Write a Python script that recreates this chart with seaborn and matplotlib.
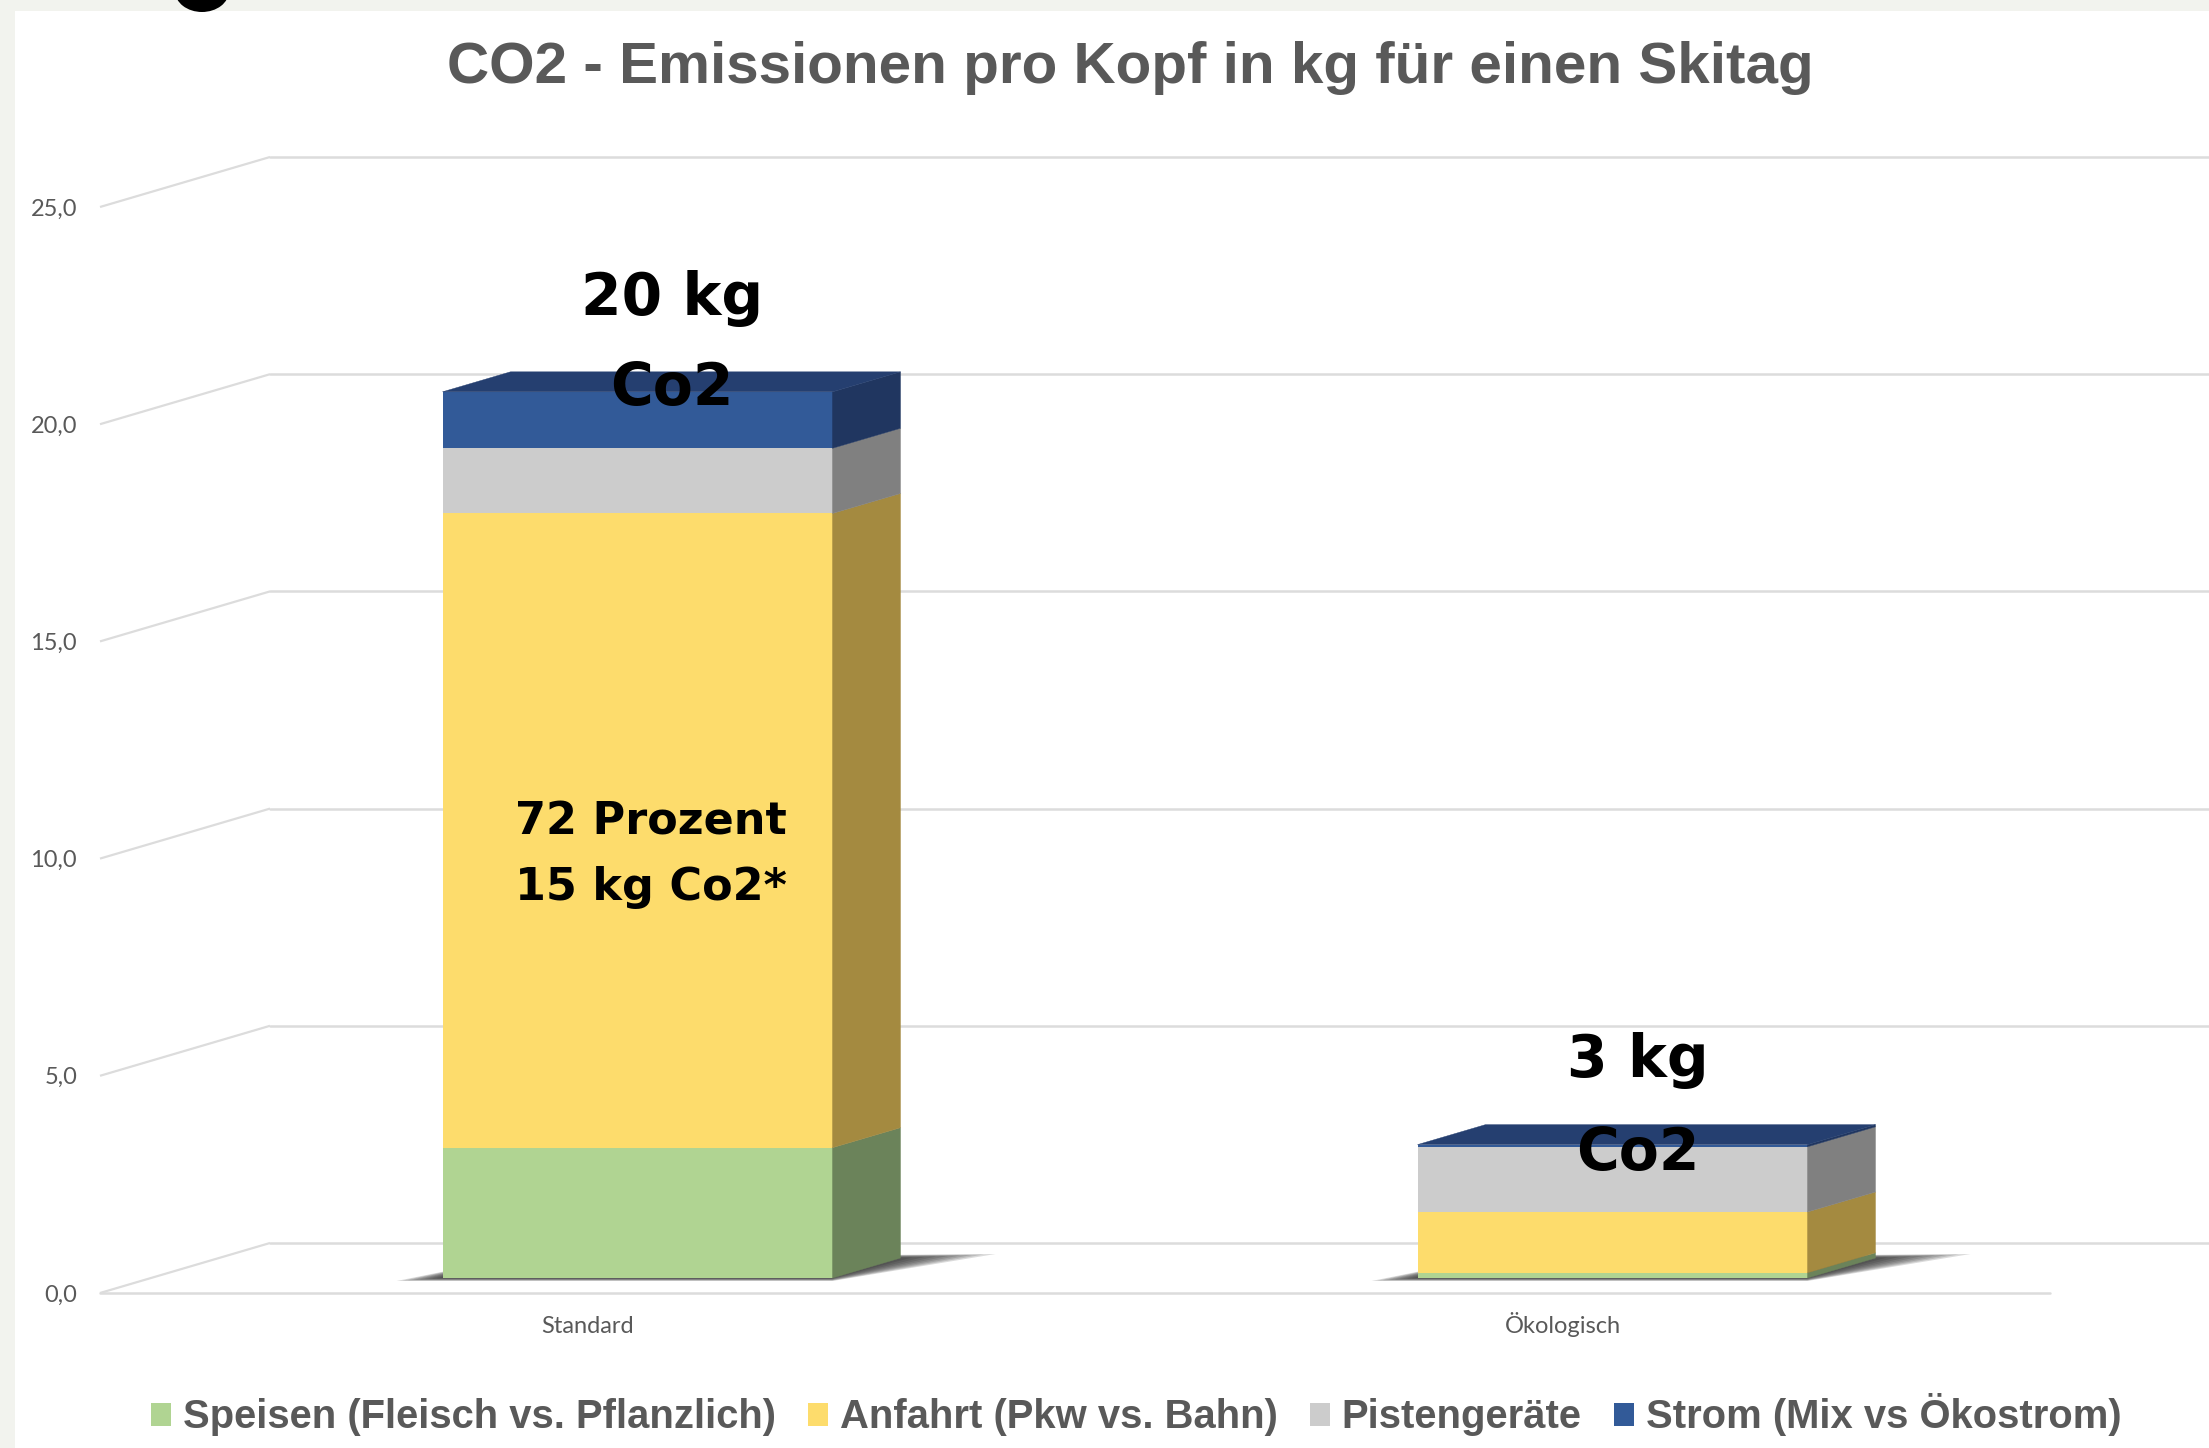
import numpy as np
import pandas as pd
import matplotlib
matplotlib.use("Agg")
import matplotlib.pyplot as plt
import seaborn as sns
from matplotlib.patches import Polygon, Rectangle, Ellipse, Patch
from matplotlib import transforms

# ---------------- data ----------------
categories = ["Standard", "Ökologisch"]
series = ["Speisen (Fleisch vs. Pflanzlich)", "Anfahrt (Pkw vs. Bahn)",
          "Pistengeräte", "Strom (Mix vs Ökostrom)"]
speisen = [3.0, 0.12]
anfahrt = [14.6, 1.4]
pistengeraete = [1.5, 1.5]
strom = [1.3, 0.05]
yticks = [0, 5, 10, 15, 20, 25]
ytick_labels = ["0,0", "5,0", "10,0", "15,0", "20,0", "25,0"]
title = "CO2 - Emissionen pro Kopf in kg für einen Skitag"
total_line1 = ["20 kg", "3 kg"]
total_line2 = ["Co2", "Co2"]
share_line1 = "72 Prozent"
share_line2 = "15 kg Co2*"

# ---------------- style ----------------
front_colors = ["#b0d492", "#fddc6c", "#cccccc", "#325a98"]
side_colors = ["#6b835a", "#a48a40", "#808080", "#203660"]
top_color = "#253f70"
grid_color = "#dcdcdc"
text_grey = "#595959"

sns.set_theme(style="white")
plt.rcParams["font.family"] = ["Lato", "DejaVu Sans"]

W, H, DPI = 2209, 1448, 100
fig = plt.figure(figsize=(W / DPI, H / DPI), dpi=DPI, facecolor="white")
ax = fig.add_axes([150 / W, (H - 1278) / H, 1950 / W, 1086 / H])
ax.set_facecolor("none")

values = np.array([speisen, anfahrt, pistengeraete, strom])
tops = np.cumsum(values, axis=0)
bottoms = tops - values

rows = []
for j, s in enumerate(series):
    for i, c in enumerate(categories):
        rows.append({"Kategorie": c, "Serie": s, "Wert": values[j, i],
                     "Oben": tops[j, i], "Unten": bottoms[j, i]})
df = pd.DataFrame(rows)

# stacked bars: draw cumulative heights from the top series down
for j in reversed(range(len(series))):
    sub = df[df["Serie"] == series[j]]
    sns.barplot(data=sub, x="Kategorie", y="Oben", order=categories,
                color=front_colors[j], saturation=1, width=0.4,
                errorbar=None, linewidth=0, ax=ax, zorder=3)

ax.set_xlim(-0.5, 1.5)
ax.set_ylim(0, 25)
for sp in ax.spines.values():
    sp.set_visible(False)
ax.grid(False)
ax.set_xlabel("")
ax.set_ylabel("")


def px2data(dx, dy):
    p0 = ax.transData.transform((0, 0))
    return ax.transData.inverted().transform(p0 + np.array([dx, dy]))


front_dx, front_dy = px2data(-50, -15)
back_dx, back_dy = px2data(120, 35)
bar_dx, bar_dy = px2data(68, 20)
x0, x1 = ax.get_xlim()

# walls / grid
for t in yticks:
    ax.plot([x0 + front_dx, x0 + back_dx], [t + front_dy, t + back_dy],
            color=grid_color, lw=1.6, zorder=1, clip_on=False,
            solid_capstyle="butt")
    ax.plot([x0 + back_dx, x1 + 0.3], [t + back_dy, t + back_dy],
            color=grid_color, lw=1.8, zorder=1, clip_on=False)
ax.plot([x0 + front_dx, x1 + front_dx], [front_dy, front_dy],
        color=grid_color, lw=1.8, zorder=1, clip_on=False)

# 3D faces and shadows
bar_patches = ax.containers[0].patches
for i, p in enumerate(bar_patches):
    xl = p.get_x()
    xr = xl + p.get_width()
    # soft shadow on the floor
    n = 8
    for k in range(n):
        f = 1 - k / n
        exl, _ = px2data(-46 * f, 0)
        exr, _ = px2data(95 * f, 0)
        _, eb = px2data(0, -3 * f)
        _, et = px2data(0, 4 * f)
        shadow = Polygon([(xl + exl, eb), (xr, eb),
                          (xr + bar_dx + exr, bar_dy + et),
                          (xl + bar_dx, bar_dy)],
                         closed=True, facecolor="#202020", alpha=0.16,
                         edgecolor="none", zorder=2, clip_on=False)
        ax.add_patch(shadow)
    # right side faces
    for j in range(len(series)):
        y0, y1 = bottoms[j, i], tops[j, i]
        if y1 - y0 <= 0:
            continue
        side = Polygon([(xr, y0), (xr + bar_dx, y0 + bar_dy),
                        (xr + bar_dx, y1 + bar_dy), (xr, y1)],
                       closed=True, facecolor=side_colors[j],
                       edgecolor=side_colors[j], lw=0.3, zorder=3,
                       clip_on=False)
        ax.add_patch(side)
    top = tops[-1, i]
    topface = Polygon([(xl, top), (xl + bar_dx, top + bar_dy),
                       (xr + bar_dx, top + bar_dy), (xr, top)],
                      closed=True, facecolor=top_color, edgecolor=top_color,
                      lw=0.3, zorder=3, clip_on=False)
    ax.add_patch(topface)

# ticks
ax.set_yticks(yticks)
ax.set_yticklabels(ytick_labels)
ax.tick_params(axis="y", length=0, pad=16.5, labelsize=17,
               labelcolor=text_grey)
ax.tick_params(axis="x", length=0, pad=28.8, labelsize=17,
               labelcolor=text_grey)
shift = transforms.ScaledTranslation(-50 / DPI, -15 / DPI, fig.dpi_scale_trans)
for lab in ax.get_yticklabels() + ax.get_xticklabels():
    lab.set_transform(lab.get_transform() + shift)
    lab.set_fontfamily(["Lato", "DejaVu Sans"])
for lab in ax.get_xticklabels():
    lab.set_verticalalignment("baseline")

# annotations
big = dict(ha="center", va="baseline", fontsize=42, fontweight="bold",
           color="black", family=["DejaVu Sans"], zorder=6, clip_on=False)
tot_x = [0.035, 1.026]
tot_y1 = [22.17, 4.63]
tot_y2 = [20.10, 2.49]
for i in range(len(categories)):
    ax.text(tot_x[i], tot_y1[i], total_line1[i], **big)
    ax.text(tot_x[i], tot_y2[i], total_line2[i], **big)
mid = dict(ha="center", va="baseline", fontsize=32, fontweight="bold",
           color="black", family=["DejaVu Sans"], zorder=6)
ax.text(0.014, 10.22, share_line1, **mid)
ax.text(0.014, 8.70, share_line2, **mid)

# title
fig.text(1130 / W, (H - 83) / H, title, ha="center", va="baseline",
         fontsize=42, fontweight="bold", color=text_grey,
         family=["Liberation Sans", "DejaVu Sans"])

# legend
handles = [Patch(facecolor=c, edgecolor="none") for c in front_colors]
leg = fig.legend(handles, series, loc="center", bbox_to_anchor=(1136 / W, 33 / H),
                 ncol=4, frameon=False, handlelength=0.5, handleheight=0.5,
                 handletextpad=0.3, columnspacing=0.8,
                 prop={"family": ["Liberation Sans", "DejaVu Sans"],
                       "weight": "bold", "size": 28.8})
for t in leg.get_texts():
    t.set_color(text_grey)

# screenshot border
fig.patches.append(Rectangle((0, (H - 11) / H), 1, 11 / H, transform=fig.transFigure,
                             facecolor="#f2f3ee", edgecolor="none", zorder=0))
fig.patches.append(Rectangle((0, 0), 15 / W, 1, transform=fig.transFigure,
                             facecolor="#f2f3ee", edgecolor="none", zorder=0))
fig.patches.append(Ellipse((202 / W, (H + 9) / H), 54 / W, 42 / H,
                           transform=fig.transFigure, facecolor="black",
                           edgecolor="none", zorder=1))

fig.savefig("out.png", dpi=DPI, facecolor="white")
